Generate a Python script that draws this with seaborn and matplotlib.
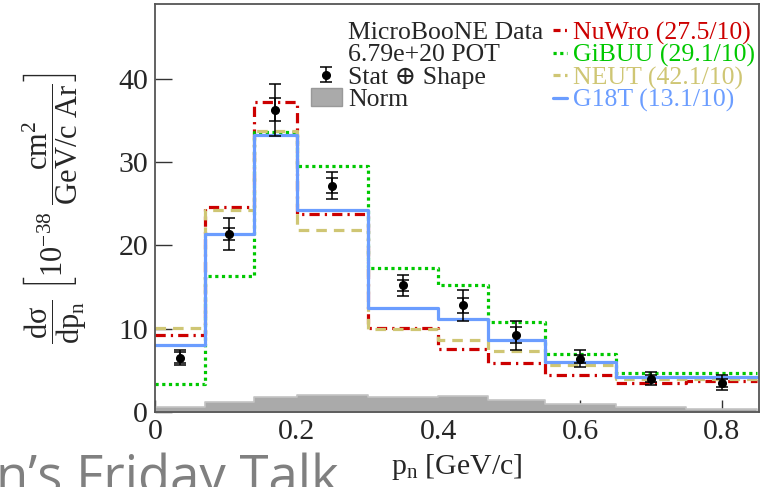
import numpy as np
import pandas as pd
import seaborn as sns
import matplotlib
matplotlib.use("Agg")
import matplotlib.pyplot as plt
from matplotlib.patches import Patch
from matplotlib.lines import Line2D
from matplotlib.legend_handler import HandlerErrorbar

# ---------------- data ----------------
bin_edges = [0.0, 0.07, 0.14, 0.20, 0.30, 0.40, 0.47, 0.55, 0.65, 0.75, 0.85]
bin_centers = [0.035, 0.105, 0.17, 0.25, 0.35, 0.435, 0.51, 0.60, 0.70, 0.80]
data_xsec = [6.5, 21.4, 36.3, 27.2, 15.2, 12.8, 9.2, 6.4, 4.0, 3.5]
err_total = [0.9, 1.95, 3.1, 1.6, 1.3, 1.85, 1.7, 1.0, 0.75, 0.9]
err_stat = [0.65, 0.7, 1.4, 0.95, 0.65, 0.95, 0.95, 0.5, 0.45, 0.5]
norm_unc = [0.6, 1.15, 1.85, 2.0, 1.8, 1.9, 1.5, 1.0, 0.55, 0.35]
nuwro = [9.2, 24.6, 37.2, 23.8, 10.1, 7.6, 5.9, 4.5, 3.5, 3.7]
gibuu = [3.4, 16.3, 33.6, 29.6, 17.3, 15.3, 10.8, 7.0, 4.65, 4.65]
neut = [10.1, 24.2, 33.8, 21.8, 10.0, 8.6, 7.3, 5.6, 3.95, 3.95]
g18t = [8.1, 21.4, 33.3, 24.2, 12.55, 11.2, 8.7, 6.0, 4.25, 4.25]

model_names = ["NuWro", "GiBUU", "NEUT", "G18T"]
model_chi2 = ["27.5/10", "29.1/10", "42.1/10", "13.1/10"]
data_labels = ["MicroBooNE Data", "6.79e+20 POT", "Stat \u2295 Shape", "Norm"]
xtick_vals = [0, 0.2, 0.4, 0.6, 0.8]
xtick_labels = ["0", "0.2", "0.4", "0.6", "0.8"]
ytick_vals = [0, 10, 20, 30, 40]
ytick_labels = ["0", "10", "20", "30", "40"]

df = pd.DataFrame({"x": bin_centers, "data": data_xsec, "norm": norm_unc,
                   "NuWro": nuwro, "GiBUU": gibuu, "NEUT": neut, "G18T": g18t})

# ---------------- style ----------------
sns.set_theme(style="ticks")
plt.rcParams["font.family"] = ["Liberation Serif", "DejaVu Serif"]
plt.rcParams["mathtext.fontset"] = "custom"
plt.rcParams["mathtext.rm"] = "Liberation Serif"
plt.rcParams["mathtext.it"] = "Liberation Serif:italic"

colors = {"NuWro": "#cc0000", "GiBUU": "#00c800", "NEUT": "#cfc674", "G18T": "#6b9dff"}
styles = {"NuWro": (0, (3.2, 1.6, 0.7, 1.6)),
          "GiBUU": (0, (1.0, 1.1)),
          "NEUT": (0, (3.3, 2.2)),
          "G18T": "-"}
legend_styles = {"NuWro": (0, (2.2, 1.4, 0.6, 1.4)),
                 "GiBUU": (0, (1.0, 1.1)),
                 "NEUT": (0, (2.2, 1.4, 0.8, 1.4)),
                 "G18T": "-"}

fig = plt.figure(figsize=(7.7, 4.87), dpi=100)
ax = fig.add_axes([155 / 770, 1 - 412 / 487, (759 - 155) / 770, (412 - 4) / 487])

# normalisation band
sns.histplot(data=df, x="x", weights="norm", bins=bin_edges, element="step",
             fill=True, color="#aaaaaa", alpha=1.0, linewidth=1.2,
             edgecolor="#c4c4c4", ax=ax, zorder=1)

# model predictions
for name in model_names:
    sns.histplot(data=df, x="x", weights=name, bins=bin_edges, element="step",
                 fill=False, color=colors[name], linestyle=styles[name],
                 linewidth=2.3, ax=ax, zorder=3)

# data with errors
eb = ax.errorbar(df["x"], df["data"], yerr=err_total, fmt="o", color="black",
                 ms=5.5, capsize=4.5, elinewidth=1.1, capthick=1.1, zorder=10)
ax.errorbar(df["x"], df["data"], yerr=err_stat, fmt="none", ecolor="black",
            capsize=4.5, elinewidth=1.1, capthick=1.1, zorder=10)

ax.set_xlim(0, 0.8525)
ax.set_ylim(0, 49.0)
ax.set_xticks(xtick_vals)
ax.set_xticklabels(xtick_labels)
ax.set_yticks(ytick_vals)
ax.set_yticklabels(ytick_labels)
ax.minorticks_off()
ax.tick_params(axis="both", direction="in", labelsize=21.5, color="#333333",
               width=1.0, pad=5)
ax.tick_params(axis="y", length=12)
ax.tick_params(axis="x", length=9)
for s in ax.spines.values():
    s.set_visible(True)
    s.set_color("#555555")
    s.set_linewidth(1.3)
    s.set_zorder(20)

ax.set_xlabel(r"p$_\mathrm{n}$ [GeV/c]", fontsize=21.5, labelpad=5)
ax.set_ylabel(r"$\dfrac{\mathrm{d\sigma}}{\mathrm{dp_n}}\ \left[10^{-38}\ \dfrac{\mathrm{cm}^2}{\mathrm{GeV/c\ Ar}}\right]$",
              fontsize=22, labelpad=21)

# legends
blank = Line2D([], [], alpha=0)
leg1 = ax.legend(handles=[blank, blank, eb,
                          Patch(facecolor="#aaaaaa", edgecolor="#999999")],
                 labels=data_labels, loc="upper left",
                 bbox_to_anchor=(0.258, 0.958), frameon=False, fontsize=18.5,
                 labelspacing=-0.03, handlelength=1.2, handletextpad=0.25,
                 borderpad=0, borderaxespad=0,
                 handler_map={eb: HandlerErrorbar(yerr_size=0.28)})
for h in leg1.legend_handles:
    if hasattr(h, "set_markersize"):
        h.set_markersize(4.5)
ax.add_artist(leg1)
model_handles = [Line2D([], [], color=colors[n], linestyle=legend_styles[n], linewidth=2.3)
                 for n in model_names]
model_labels = [f"{n} ({c})" for n, c in zip(model_names, model_chi2)]
ax.legend(handles=model_handles, labels=model_labels, loc="upper left",
          bbox_to_anchor=(0.659, 0.958), frameon=False, fontsize=18.5,
          labelspacing=-0.03, handlelength=0.55, handletextpad=0.23,
          borderpad=0, borderaxespad=0,
          labelcolor=[colors[n] for n in model_names])

fig.text(-0.005, -0.012, "n\u2019s Friday Talk", fontsize=38, color="#808080",
         family=["Open Sans", "DejaVu Sans"], ha="left", va="baseline")

fig.savefig("out.png", dpi=100, facecolor="white")
